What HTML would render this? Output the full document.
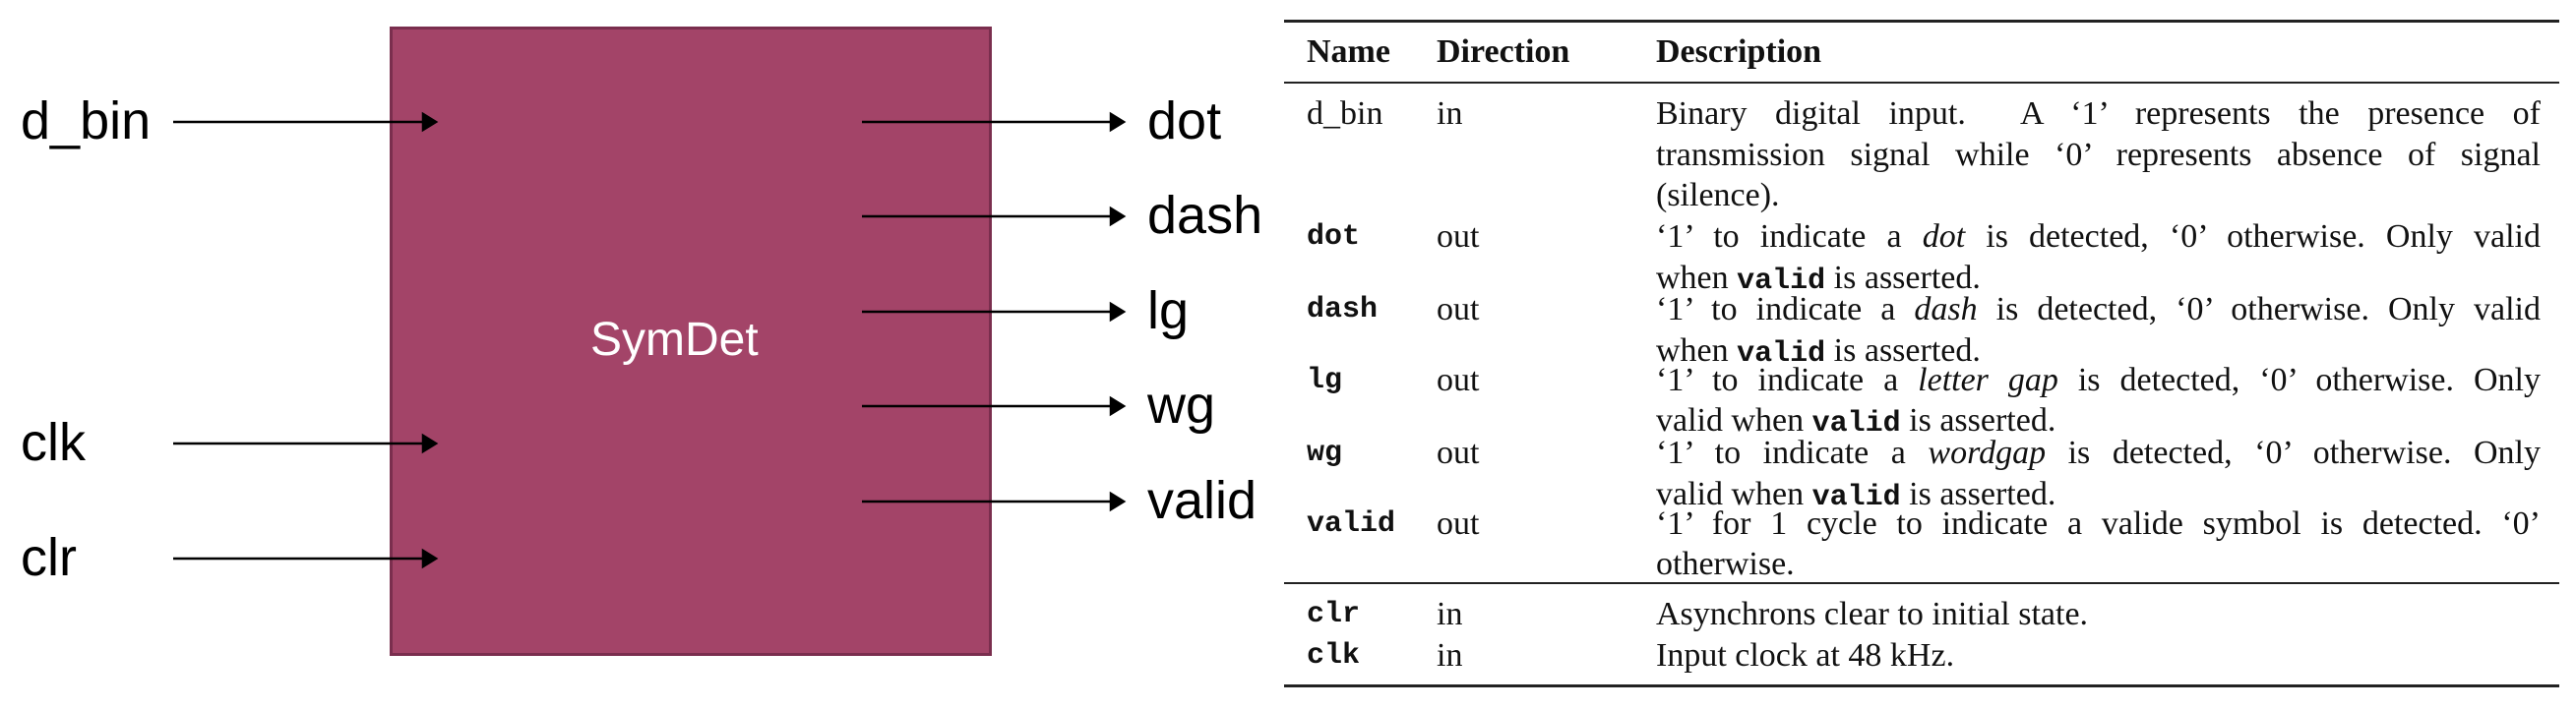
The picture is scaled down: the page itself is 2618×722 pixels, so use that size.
<!DOCTYPE html>
<html><head><meta charset="utf-8"><style>
body{margin:0;width:2618px;height:722px;background:#fff;position:relative;overflow:hidden;font-family:"Liberation Sans",sans-serif}
.a{position:absolute}
.lbl{position:absolute;font-size:54px;color:#000;line-height:1}
.t{position:absolute;font-family:"Liberation Serif",serif;font-size:34px;color:#111;white-space:nowrap;line-height:1}
.m{font-family:"Liberation Mono",monospace;font-size:30px;font-weight:bold}
.d{position:absolute;left:1683px;width:899px;font-family:"Liberation Serif",serif;font-size:34px;color:#111;line-height:1;white-space:nowrap}
.j{text-align:justify;text-align-last:justify}
.rule{position:absolute;left:1305px;width:1296px;background:#222}
</style></head><body>
<div class="a" style="left:396px;top:27px;width:606px;height:634px;background:#a34468;border:3px solid #7a2e4e"></div>
<div class="a" style="left:600px;top:318px;font-size:48px;color:#fff">SymDet</div>
<div class="lbl" style="left:21px;top:96px">d_bin</div>
<div class="lbl" style="left:21px;top:423px">clk</div>
<div class="lbl" style="left:21px;top:540px">clr</div>
<div class="lbl" style="left:1166px;top:96px">dot</div>
<div class="lbl" style="left:1166px;top:192px">dash</div>
<div class="lbl" style="left:1166px;top:289px">lg</div>
<div class="lbl" style="left:1166px;top:385px">wg</div>
<div class="lbl" style="left:1166px;top:482px">valid</div>
<svg class="a" style="left:0;top:0" width="1300" height="722">
<g stroke="#000" stroke-width="2.5" fill="#000">
<line x1="176" y1="124" x2="432" y2="124"/><polygon points="430,116 443,124 430,132"/>
<line x1="176" y1="451" x2="432" y2="451"/><polygon points="430,443 443,451 430,459"/>
<line x1="176" y1="568" x2="432" y2="568"/><polygon points="430,560 443,568 430,576"/>
<line x1="876" y1="124" x2="1131" y2="124"/><polygon points="1129,116 1142,124 1129,132"/>
<line x1="876" y1="220" x2="1131" y2="220"/><polygon points="1129,212 1142,220 1129,228"/>
<line x1="876" y1="317" x2="1131" y2="317"/><polygon points="1129,309 1142,317 1129,325"/>
<line x1="876" y1="413" x2="1131" y2="413"/><polygon points="1129,405 1142,413 1129,421"/>
<line x1="876" y1="510" x2="1131" y2="510"/><polygon points="1129,502 1142,510 1129,518"/>
</g></svg>
<div class="rule" style="top:20px;height:3px"></div>
<div class="rule" style="top:83px;height:2px"></div>
<div class="rule" style="top:592px;height:2px"></div>
<div class="rule" style="top:696px;height:3px"></div>
<div class="t" style="left:1328px;top:36px;font-weight:bold">Name</div>
<div class="t" style="left:1460px;top:36px;font-weight:bold">Direction</div>
<div class="t" style="left:1683px;top:36px;font-weight:bold">Description</div>

<div class="t" style="left:1328px;top:99px">d_bin</div><div class="t" style="left:1460px;top:99px">in</div>
<div class="d j" style="top:99px">Binary digital input.&nbsp; A ‘1’ represents the presence of</div>
<div class="d j" style="top:141px">transmission signal while ‘0’ represents absence of signal</div>
<div class="d" style="top:182px">(silence).</div>

<div class="t m" style="left:1328px;top:226px">dot</div><div class="t" style="left:1460px;top:224px">out</div>
<div class="d j" style="top:224px">‘1’ to indicate a <i>dot</i> is detected, ‘0’ otherwise. Only valid</div>
<div class="d" style="top:266px">when <span class="m">valid</span> is asserted.</div>

<div class="t m" style="left:1328px;top:300px">dash</div><div class="t" style="left:1460px;top:298px">out</div>
<div class="d j" style="top:298px">‘1’ to indicate a <i>dash</i> is detected, ‘0’ otherwise. Only valid</div>
<div class="d" style="top:340px">when <span class="m">valid</span> is asserted.</div>

<div class="t m" style="left:1328px;top:372px">lg</div><div class="t" style="left:1460px;top:370px">out</div>
<div class="d j" style="top:370px">‘1’ to indicate a <i>letter gap</i> is detected, ‘0’ otherwise. Only</div>
<div class="d" style="top:411px">valid when <span class="m">valid</span> is asserted.</div>

<div class="t m" style="left:1328px;top:446px">wg</div><div class="t" style="left:1460px;top:444px">out</div>
<div class="d j" style="top:444px">‘1’ to indicate a <i>wordgap</i> is detected, ‘0’ otherwise. Only</div>
<div class="d" style="top:486px">valid when <span class="m">valid</span> is asserted.</div>

<div class="t m" style="left:1328px;top:518px">valid</div><div class="t" style="left:1460px;top:516px">out</div>
<div class="d j" style="top:516px">‘1’ for 1 cycle to indicate a valide symbol is detected. ‘0’</div>
<div class="d" style="top:557px">otherwise.</div>

<div class="t m" style="left:1328px;top:610px">clr</div><div class="t" style="left:1460px;top:608px">in</div>
<div class="d" style="top:608px">Asynchrons clear to initial state.</div>
<div class="t m" style="left:1328px;top:652px">clk</div><div class="t" style="left:1460px;top:650px">in</div>
<div class="d" style="top:650px">Input clock at 48 kHz.</div>
</body></html>
